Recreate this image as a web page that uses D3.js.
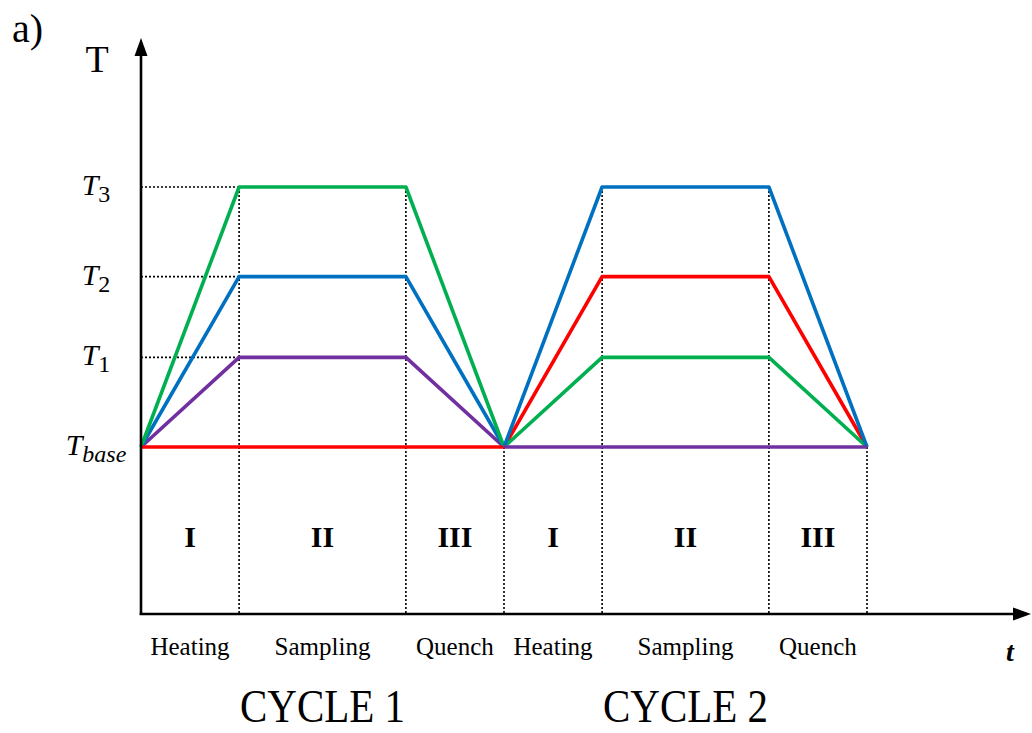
<!DOCTYPE html>
<html><head><meta charset="utf-8">
<script src="https://cdn.jsdelivr.net/npm/d3@7"></script>
<style>body{margin:0;background:#fff}svg{display:block}</style>
</head><body>
<svg id="c" width="1032" height="733"></svg>
<script>
// ---- data ----
const timePoints = [0, 1, 2.7, 3.7, 4.7, 6.4, 7.4];      // phase boundaries (arbitrary time units)
const phaseLabels = ["Heating", "Sampling", "Quench"];
const phaseNumerals = ["I", "II", "III"];
const cycleLabels = ["CYCLE 1", "CYCLE 2"];
const levelSubs = ["base", "1", "2", "3"];
const levelValues = [0, 1, 1.9, 2.9];
const greenSeries  = [0, 2.9, 2.9, 0, 1, 1, 0];
const blueSeries   = [0, 1.9, 1.9, 0, 2.9, 2.9, 0];
const purpleSeries = [0, 1, 1, 0, 0, 0, 0];
const redSeries    = [0, 0, 0, 0, 1.9, 1.9, 0];

const colors = {green: "#00b050", blue: "#0070c0", purple: "#7030a0", red: "#ff0000"};
const seriesByName = {green: greenSeries, blue: blueSeries, purple: purpleSeries, red: redSeries};
const drawOrder = [["purple", "blue", "green", "red"], ["red", "green", "blue", "purple"]];

const svg = d3.select("#c");
const x = d3.scaleLinear().domain([0, 7.4]).range([141, 867]);
const y = d3.scaleLinear().domain([0, 2.9]).range([447, 187]);
const x0 = 141, yAxis = 614, serif = "'Liberation Serif', 'Times New Roman', serif";

// dotted guides
const dot = svg.append("g").attr("stroke", "#000").attr("stroke-width", 1.6).attr("stroke-dasharray", "2,2");
levelValues.slice(1).forEach(v => {
  dot.append("line").attr("x1", x0).attr("x2", x(timePoints[1])).attr("y1", y(v)).attr("y2", y(v));
});
timePoints.slice(1).forEach((t, i) => {
  const top = d3.max([greenSeries, blueSeries, purpleSeries, redSeries], s => s[i + 1]);
  dot.append("line").attr("x1", x(t)).attr("x2", x(t)).attr("y1", y(top)).attr("y2", yAxis);
});

// series
const line = d3.line().x(d => x(d[0])).y(d => y(d[1]));
[0, 1].forEach(c => {
  drawOrder[c].forEach(name => {
    const s = seriesByName[name];
    const pts = [0, 1, 2, 3].map(k => [timePoints[c * 3 + k], s[c * 3 + k]]);
    svg.append("path").attr("d", line(pts)).attr("fill", "none")
      .attr("stroke", colors[name]).attr("stroke-width", 3.6).attr("stroke-linejoin", "round");
  });
});

// axes
svg.append("line").attr("x1", x0).attr("x2", x0).attr("y1", yAxis + 1).attr("y2", 52).attr("stroke", "#000").attr("stroke-width", 2.6);
svg.append("path").attr("d", `M${x0},38 L${x0 - 6.5},56 L${x0 + 6.5},56 Z`).attr("fill", "#000");
svg.append("line").attr("x1", x0 - 1.3).attr("x2", 1016).attr("y1", yAxis).attr("y2", yAxis).attr("stroke", "#000").attr("stroke-width", 2.6);
svg.append("path").attr("d", `M1031,${yAxis} L1013,${yAxis - 6.5} L1013,${yAxis + 6.5} Z`).attr("fill", "#000");

// level labels
levelSubs.forEach((sub, i) => {
  const t = svg.append("text").attr("x", 96).attr("y", y(levelValues[i]) + 8)
    .attr("text-anchor", "middle").attr("font-family", serif).attr("font-size", 30);
  t.append("tspan").attr("font-style", "italic").text("T");
  t.append("tspan").attr("font-size", 24).attr("dy", 7)
    .attr("font-style", sub === "base" ? "italic" : "normal").text(sub);
});

// phase labels
[0, 1].forEach(c => {
  [0, 1, 2].forEach(p => {
    const mid = x((timePoints[c * 3 + p] + timePoints[c * 3 + p + 1]) / 2);
    svg.append("text").attr("x", mid).attr("y", 547).attr("text-anchor", "middle")
      .attr("font-family", serif).attr("font-weight", "bold").attr("font-size", 30).text(phaseNumerals[p]);
    svg.append("text").attr("x", mid).attr("y", 655).attr("text-anchor", "middle")
      .attr("font-family", serif).attr("font-size", 25).text(phaseLabels[p]);
  });
  const cx = x((timePoints[c * 3] + timePoints[c * 3 + 3]) / 2);
  svg.append("text").attr("transform", `translate(${cx},722) scale(1,1.12)`)
    .attr("text-anchor", "middle").attr("font-family", serif).attr("font-size", 41).text(cycleLabels[c]);
});

svg.append("text").attr("x", 12).attr("y", 42).attr("font-family", serif).attr("font-size", 40).text("a)");
svg.append("text").attr("x", 97).attr("y", 72).attr("text-anchor", "middle").attr("font-family", serif).attr("font-size", 38).text("T");
svg.append("text").attr("x", 1010).attr("y", 661).attr("text-anchor", "middle").attr("font-family", serif)
  .attr("font-style", "italic").attr("font-weight", "bold").attr("font-size", 28).text("t");
</script>
</body></html>
